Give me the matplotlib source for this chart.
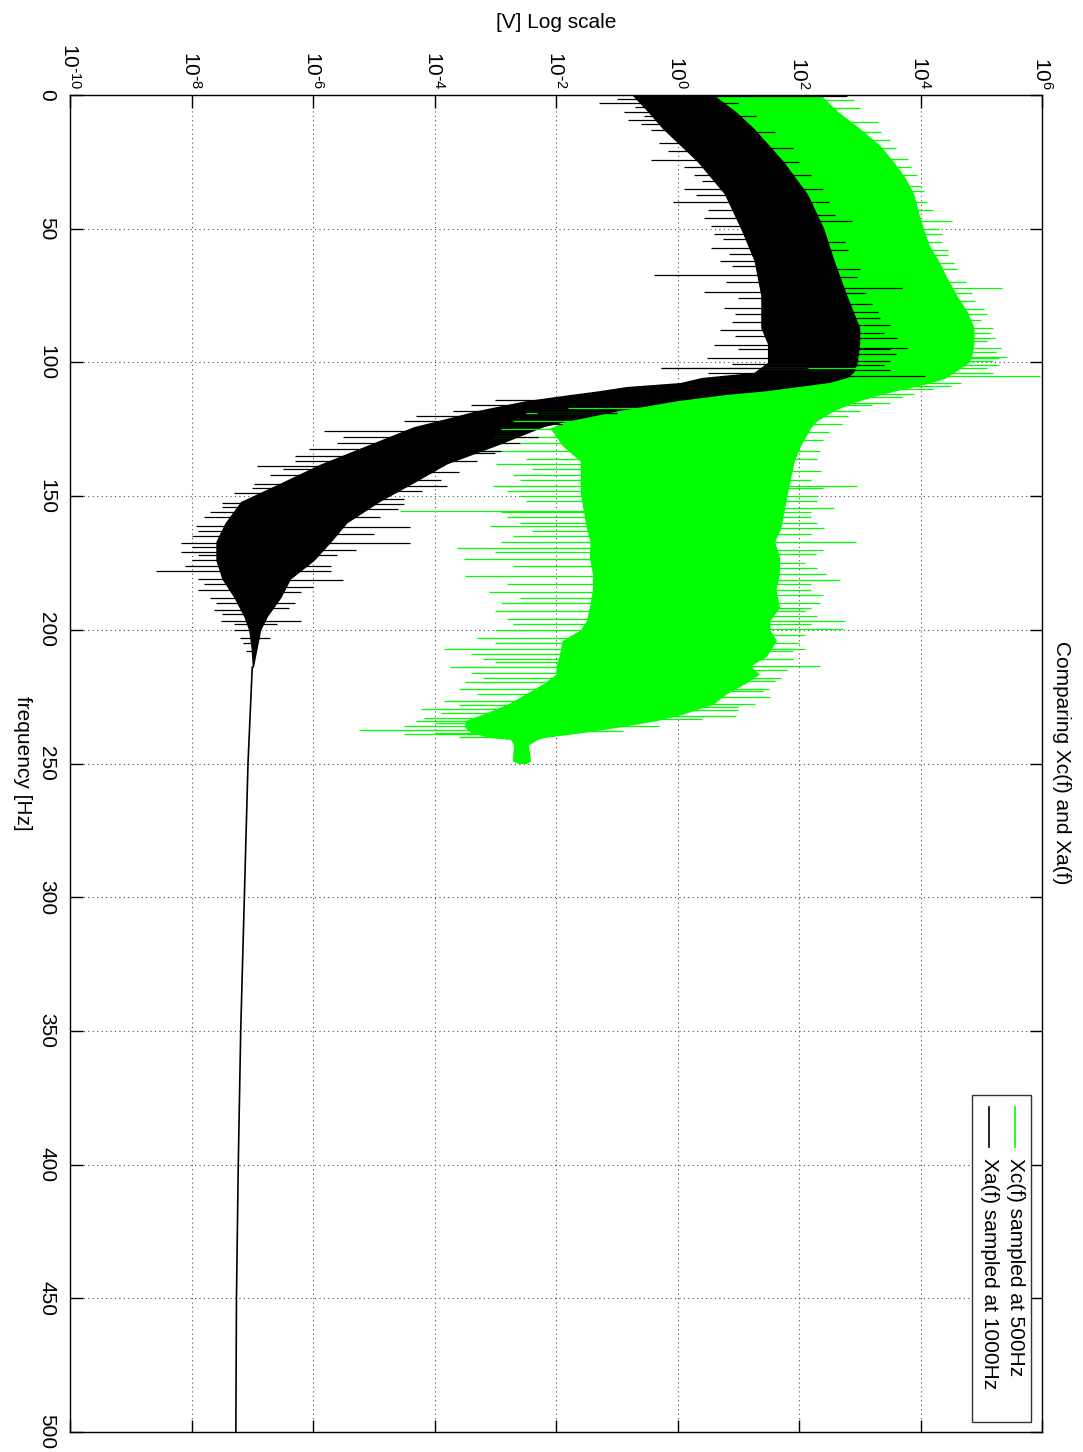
import numpy as np
import matplotlib
matplotlib.use("Agg")
import matplotlib.pyplot as plt
from matplotlib.patches import Rectangle
from matplotlib.lines import Line2D

plt.rcParams['font.family'] = ['Liberation Sans', 'DejaVu Sans']
plt.rcParams['mathtext.default'] = 'regular'

# Xa(f), sampled at 1000 Hz (black). values are log10 of [V]
xa_freq = [0, 6, 12.5, 25, 37, 50, 62, 75, 87, 93, 100, 103.7, 105.6, 107.5, 109, 110.6, 112,
           114.3, 118, 121.8, 124, 131, 138, 145, 152, 160, 167, 174, 181, 188, 195, 200, 207, 214]
xa_lo = [-0.75, -0.5, -0.25, 0.33, 0.77, 1.04, 1.26, 1.37, 1.37, 1.48, 1.48, 1.26, 0.4, 0.05, -0.84,
         -1.3, -1.77, -2.5, -3.3, -3.95, -4.34, -5.11, -5.88, -6.53, -7.19, -7.45, -7.6, -7.6, -7.5,
         -7.3, -7.14, -7.06, -7.02, -7.0]
xa_hi = [0.6, 0.95, 1.26, 1.75, 2.14, 2.41, 2.58, 2.79, 3.0, 3.0, 2.96, 2.9, 2.8, 2.5, 2.0, 1.46, 0.8,
         0.0, -0.95, -1.77, -2.2, -2.97, -3.8, -4.34, -4.9, -5.44, -5.7, -5.98, -6.37, -6.53, -6.75,
         -6.86, -6.92, -6.98]
xa_tail_f = [214, 250, 300, 350, 400, 450, 500]
xa_tail_v = [-7.0, -7.07, -7.13, -7.19, -7.23, -7.26, -7.27]

# spikes below the black band
xa_low_f = [1.5, 3.1, 4.5, 6.2, 8, 9.3, 11, 13, 15.5, 18, 21, 24.3, 27, 29.9, 32, 35, 37.5, 39.9, 43,
            46, 49, 52, 54, 57.3, 59.5, 62, 64, 67.2, 70, 73.5, 76, 79.7, 82, 85, 88, 90, 93.4, 95,
            98.4, 100.5, 102, 104,
            114, 116, 118, 120, 122, 125.5, 128, 130, 132.4, 135, 137, 138.8, 140, 142, 145.3, 147,
            149, 152.4, 154, 156, 158, 161, 163, 165, 167.5, 169, 170.8, 172, 174, 176, 178, 181,
            183, 185, 188, 190, 192.6, 194, 196.8, 198, 200, 203, 205, 208]
xa_low_v = [-1.0, -1.29, -0.7, -0.88, -0.55, -0.82, -0.6, -0.44, -0.1, -0.3, -0.15, -0.44, 0.1, 0.27,
            0.4, 0.1, 0.3, -0.08, 0.5, 0.44, 0.55, 0.6, 0.75, 0.55, 0.85, 0.7, 0.9, -0.38, 0.8,
            0.44, 1.0, 0.77, 0.95, 0.9, 0.7, 0.95, 0.6, 1.0, 0.49, 0.9, -0.27, 0.5,
            -3.0, -3.4, -3.7, -4.3, -4.5, -5.82, -5.5, -5.6, -6.07, -6.3, -6.3, -6.92, -6.5, -6.7,
            -6.97, -7.0, -7.3, -7.5, -7.5, -7.7, -7.8, -7.93, -7.9, -8.0, -8.18, -8.0, -8.18, -7.9,
            -8.0, -8.1, -8.59, -7.9, -7.8, -7.9, -7.7, -7.6, -7.63, -7.5, -7.52, -7.3, -7.3, -7.2,
            -7.15, -7.1]
# spikes above the black band
xa_high_f = [0.3, 3, 8, 14, 20, 25, 30, 35, 40, 45, 47.3, 55, 58, 65, 68, 72.2, 74, 78, 81, 83.4, 86,
             89, 91, 94.6, 95, 97, 99.6, 101, 103, 105.2,
             116, 119, 123, 126, 128, 130, 133, 134, 137, 141, 144, 146.4, 148, 151, 153, 155, 158,
             161.7, 164, 167.5, 170, 172, 176, 178, 181.4, 184, 186, 190, 192, 196.8, 198, 203]
xa_high_v = [2.79, 1.0, 1.3, 1.6, 1.9, 2.0, 2.2, 2.4, 2.5, 2.6, 2.88, 2.75, 2.8, 3.0, 2.95, 3.7, 3.1,
             3.2, 3.3, 3.34, 3.5, 3.4, 3.62, 3.78, 3.5, 3.6, 3.5, 3.4, 3.5, 4.08,
             -0.5, -1.0, -1.9, -2.5, -2.3, -2.6, -2.9, -3.0, -3.3, -3.6, -3.9, -3.8, -4.2, -4.5,
             -4.5, -4.6, -4.9, -4.4, -5.0, -4.4, -5.3, -5.6, -5.7, -5.7, -5.5, -6.0, -6.2, -6.3,
             -6.4, -6.2, -6.6, -6.7]

# Xc(f), sampled at 500 Hz (green)
xc_freq = [0, 6, 12.5, 19, 25, 31, 37, 44, 50, 56, 62, 68.5, 75, 81, 87, 93, 97, 100, 103, 106,
           108, 110.6, 112, 115, 118, 121.8, 124.5, 131, 137, 149, 162, 167, 173, 179, 185, 191.6,
           196.6, 200, 204, 210, 213.5, 216.6, 220, 224, 227.8, 231.5, 234, 236.5, 238.4, 240.3,
           241, 243, 249, 250]
xc_lo = [0.3, 0.65, 0.96, 1.2, 1.45, 1.65, 1.84, 1.95, 2.1, 2.2, 2.28, 2.38, 2.49, 2.6, 2.7, 2.7,
         2.68, 2.66, 2.6, 2.4, 2.0, 1.2, 0.5, -0.3, -0.95, -1.8, -2.1, -1.9, -1.6, -1.6, -1.5, -1.44,
         -1.45, -1.4, -1.4, -1.45, -1.5, -1.6, -1.9, -1.95, -2.0, -2.0, -2.2, -2.5, -2.8, -3.2, -3.5,
         -3.5, -3.4, -3.1, -2.75, -2.7, -2.72, -2.62]
xc_hi = [2.36, 2.63, 3.0, 3.34, 3.56, 3.75, 3.89, 3.97, 4.05, 4.14, 4.3, 4.44, 4.6, 4.77, 4.88, 4.88,
         4.85, 4.8, 4.6, 4.4, 4.1, 3.6, 3.34, 2.9, 2.58, 2.3, 2.19, 2.03, 1.92, 1.81, 1.7, 1.6, 1.68,
         1.68, 1.62, 1.68, 1.52, 1.52, 1.63, 1.46, 1.2, 1.35, 1.12, 0.8, 0.59, 0.09, -0.35, -1.0,
         -1.55, -2.2, -2.3, -2.45, -2.42, -2.48]
xc_high_f = [2, 5, 10, 14, 17, 20, 24, 27, 30, 34, 36, 40, 43, 47, 50, 52, 55, 58, 60, 63, 65, 70,
             72, 74, 77, 80, 82, 84, 87, 89, 91, 92, 94.6, 96, 97.8, 98.5, 99.6, 101, 102, 104,
             105.2, 107.7, 109, 110, 112, 113, 115, 116, 118, 120, 123, 126, 129, 133, 136, 140.7,
             144, 146.3, 147, 150, 152, 154.4, 156, 158, 160, 162, 164, 167.2, 170, 171.7, 175,
             177, 179, 181.4, 183, 185, 187, 189.8, 192, 193, 195, 196.6, 198, 199.8, 202, 205,
             207, 208, 211, 213.5, 215, 218, 219, 222, 223, 225.3, 227.6, 228.8, 230, 232.2,
             233.5, 236, 238]
xc_high_v = [2.9, 3.0, 3.3, 3.35, 3.5, 3.6, 3.8, 3.85, 3.95, 4.0, 4.05, 4.1, 4.2, 4.52, 4.3, 4.35,
             4.35, 4.45, 4.45, 4.55, 4.6, 4.75, 5.34, 4.85, 4.9, 5.04, 5.1, 5.0, 5.2, 5.15, 5.23,
             5.1, 5.32, 5.25, 5.42, 5.3, 5.2, 5.3, 5.1, 5.2, 5.97, 4.66, 4.5, 4.2, 3.9, 3.7, 3.5,
             3.2, 3.0, 2.8, 2.7, 2.5, 2.4, 2.35, 2.3, 2.36, 2.2, 2.96, 2.4, 2.3, 2.3, 2.58, 2.2,
             2.2, 2.3, 2.41, 2.2, 2.94, 2.4, 2.28, 2.1, 2.3, 2.45, 2.67, 2.2, 2.2, 2.4, 2.34, 2.2,
             2.1, 2.3, 2.75, 2.2, 2.72, 2.1, 2.0, 2.1, 1.9, 1.9, 2.34, 1.8, 1.7, 1.6, 1.5, 1.4,
             1.52, 1.27, 1.0, 1.0, 0.97, 0.4, -0.3, -0.9]
xc_low_f = [102, 117, 119, 122, 125, 128, 130, 133, 136, 138, 140, 142, 144, 146.4, 148, 150, 152,
            155.4, 156, 158, 160, 161, 163, 165, 167, 169.4, 171, 173.6, 176, 179.8, 183, 186,
            188, 190, 193, 196, 198, 200, 203, 205, 207, 209, 211, 212, 214, 216, 218, 219.7, 222,
            224, 226.7, 228, 229.7, 231, 233, 234, 235, 236, 237.5, 238.5, 239, 240]
xc_low_v = [-0.27, -1.8, -2.5, -2.7, -2.9, -3.03, -2.6, -3.25, -2.5, -2.98, -2.4, -2.7, -2.6, -3.03,
            -2.8, -2.6, -2.5, -4.56, -2.9, -2.8, -2.6, -3.08, -2.4, -2.7, -2.9, -3.63, -3.0, -3.52,
            -2.7, -3.5, -2.8, -3.1, -2.6, -2.9, -3.0, -2.8, -2.7, -3.0, -3.3, -3.0, -3.85, -3.4,
            -3.2, -3.0, -3.74, -3.4, -3.2, -3.5, -3.6, -3.3, -3.85, -3.6, -4.23, -3.9, -4.17, -4.3,
            -4.0, -4.5, -5.24, -4.0, -4.5, -3.6]

decades = list(range(-10, 7, 2))
legend_labels = ["Xc(f) sampled at 500Hz", "Xa(f) sampled at 1000Hz"]
green = (0.0, 1.0, 0.0)

W, H = 1083, 1452


def fx(px):
    return px / W


def fy(py):
    return 1 - py / H


def decade_label(k):
    # short hyphen as in the original, not the long math minus
    if k < 0:
        return r'$10^{\text{-}%d}$' % (-k)
    return r'$10^{%d}$' % k


def draw_series(ax, freq, lo, hi, spikes, color):
    """Dense noisy spectrum: solid core band plus the long spikes around it."""
    freq = np.array(freq)
    lo = np.array(lo)
    hi = np.array(hi)
    ax.fill_betweenx(freq, 10.0 ** lo, 10.0 ** hi, color=color, lw=0)
    for sf, sv in spikes:
        mid = (np.interp(sf, freq, lo) + np.interp(sf, freq, hi)) / 2
        ax.hlines(sf, 10.0 ** np.array(sv), 10.0 ** mid, color=color, lw=0.9)


fig = plt.figure(figsize=(W / 100, H / 100), dpi=100)
ax = fig.add_axes([fx(70), fy(1432), (1042 - 70) / W, (1432 - 95) / H])

draw_series(ax, xc_freq, xc_lo, xc_hi, [(xc_high_f, xc_high_v), (xc_low_f, xc_low_v)], green)
draw_series(ax, xa_freq, xa_lo, xa_hi, [(xa_high_f, xa_high_v), (xa_low_f, xa_low_v)], 'k')
ax.plot(10.0 ** np.array(xa_tail_v), xa_tail_f, color='k', lw=1.2)

ax.set_xscale('log')
ax.set_xlim(1e-10, 1e6)
ax.set_ylim(500, 0)
ax.set_xticks([10.0 ** k for k in decades])
ax.set_xticklabels([decade_label(k) for k in decades])
ax.xaxis.set_minor_locator(matplotlib.ticker.NullLocator())
ax.set_yticks(range(0, 501, 50))
ax.tick_params(axis='x', top=True, bottom=True, labeltop=True, labelbottom=False,
               direction='in', length=9, width=1, labelsize=15, labelrotation=-90, pad=4)
ax.tick_params(axis='y', left=True, right=True, direction='in', length=9, width=1,
               labelsize=15, labelrotation=-90, pad=10)
for lbl in ax.get_yticklabels():
    lbl.set_va('center')
ax.grid(True, color='0.3', linestyle=(0, (1, 3)), linewidth=0.8)
ax.set_axisbelow(True)
for s in ax.spines.values():
    s.set_linewidth(1.0)

fig.text(fx(556), fy(22), "[V] Log scale", ha='center', va='center', fontsize=15)
fig.text(fx(22), fy(763), "frequency [Hz]", ha='center', va='center', rotation=-90, fontsize=15)
fig.text(fx(1062), fy(763), "Comparing Xc(f) and Xa(f)", ha='center', va='center',
         rotation=-90, fontsize=15)

# legend, drawn by hand so the text can be turned like the rest of the page
fig.add_artist(Rectangle((fx(972), fy(1422)), fx(1031) - fx(972), fy(1095) - fy(1422),
                         transform=fig.transFigure, facecolor='white', edgecolor='0.2', lw=1))
for xpos, col, lab in [(1015, green, legend_labels[0]), (989, 'k', legend_labels[1])]:
    fig.add_artist(Line2D([fx(xpos), fx(xpos)], [fy(1107), fy(1147)], color=col, lw=1.2,
                          transform=fig.transFigure))
    fig.text(fx(xpos), fy(1158), lab, rotation=-90, rotation_mode='anchor',
             ha='left', va='center', fontsize=15)

fig.savefig("out.png", dpi=100)
